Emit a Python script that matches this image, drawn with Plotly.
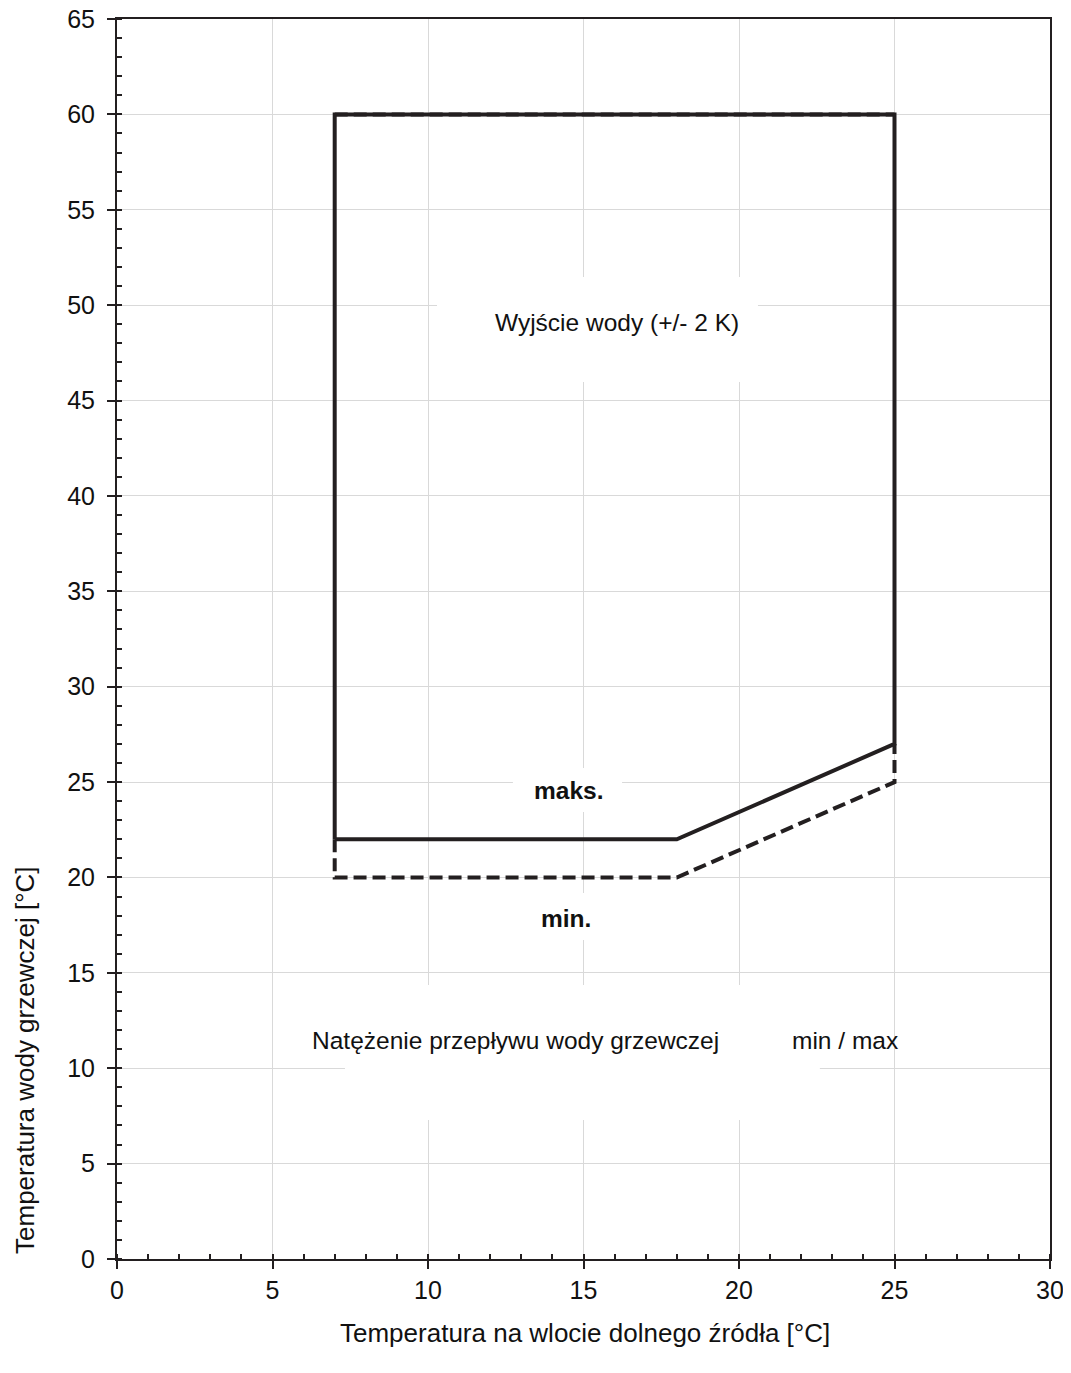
import plotly.graph_objects as go

# Data
max_x = [7, 7, 25, 25, 18, 7]
max_y = [22, 60, 60, 27, 22, 22]
min_x = [7, 7, 18, 25, 25]
min_y = [22, 20, 20, 25, 27]
top_x = [7, 25]
top_y = [60, 60]

x_ticks = [0, 5, 10, 15, 20, 25, 30]
y_ticks = [0, 5, 10, 15, 20, 25, 30, 35, 40, 45, 50, 55, 60, 65]

LINE = "#231f20"
FONT = "Liberation Sans, Arial, sans-serif"
TXT = "#111111"

fig = go.Figure()
fig.add_trace(go.Scatter(x=top_x, y=top_y, mode="lines",
                         line=dict(color=LINE, width=4, dash="13px,6px"), hoverinfo="skip"))
fig.add_trace(go.Scatter(x=min_x, y=min_y, mode="lines",
                         line=dict(color=LINE, width=4, dash="13px,6px"), hoverinfo="skip"))
fig.add_trace(go.Scatter(x=max_x, y=max_y, mode="lines",
                         line=dict(color=LINE, width=4), hoverinfo="skip"))

# white boxes behind labels (hide gridlines)
boxes = [
    (10.29, 20.61, 45.97, 51.48),
    (12.73, 16.24, 23.43, 25.74),
    (12.96, 15.92, 16.72, 19.19),
    (7.33, 22.6, 7.29, 14.36),
]
for x0, x1, y0, y1 in boxes:
    fig.add_shape(type="rect", x0=x0, x1=x1, y0=y0, y1=y1, xref="x", yref="y",
                  fillcolor="white", line=dict(width=0), layer="between")

labels = [
    (16.08, 49.1, "Wyjście wody (+/- 2 K)", False),
    (14.53, 24.58, "maks.", True),
    (14.44, 17.87, "min.", True),
    (12.8, 11.43, "Natężenie przepływu wody grzewczej", False),
    (23.4, 11.43, "min / max", False),
]
for x, y, t, b in labels:
    fig.add_annotation(x=x, y=y, xref="x", yref="y", showarrow=False,
                       xanchor="center", yanchor="middle",
                       text=f"<b>{t}</b>" if b else t,
                       font=dict(family=FONT, size=24.5, color=TXT))

fig.add_annotation(x=-0.0986, y=0.1605, xref="paper", yref="paper", showarrow=False,
                   xanchor="center", yanchor="middle",
                   text="Temperatura wody grzewczej [°C]", textangle=-90,
                   font=dict(family=FONT, size=26, color=TXT))
fig.add_annotation(x=0.5016, y=-0.0597, xref="paper", yref="paper", showarrow=False,
                   xanchor="center", yanchor="middle",
                   text="Temperatura na wlocie dolnego źródła [°C]",
                   font=dict(family=FONT, size=26, color=TXT))

axis_common = dict(
    showgrid=True, gridcolor="#d9d9d9", gridwidth=1,
    showline=True, linecolor=LINE, linewidth=2, mirror=True,
    ticks="outside", ticklen=8, tickcolor=LINE, tickwidth=1.5,
    tickfont=dict(family=FONT, size=25, color=TXT),
    ticklabeloverflow="allow", automargin=False,
    zeroline=False,
)

fig.update_xaxes(range=[0, 30], tickvals=x_ticks, ticktext=[str(v) for v in x_ticks],
                 minor=dict(dtick=1, ticks="inside", ticklen=5, tickcolor=LINE, tickwidth=1.5, showgrid=False),
                 ticklabelstandoff=0, **axis_common)
fig.update_yaxes(range=[0, 65], tickvals=y_ticks, ticktext=[str(v) for v in y_ticks],
                 minor=dict(dtick=1, ticks="inside", ticklen=5, tickcolor=LINE, tickwidth=1.5, showgrid=False),
                 ticklabelstandoff=7, **axis_common)

fig.update_layout(
    width=1055, height=1357,
    margin=dict(l=109, r=13, t=11, b=106),
    plot_bgcolor="white", paper_bgcolor="white",
    showlegend=False,
    font=dict(family=FONT),
)

fig.write_html("out.html")
